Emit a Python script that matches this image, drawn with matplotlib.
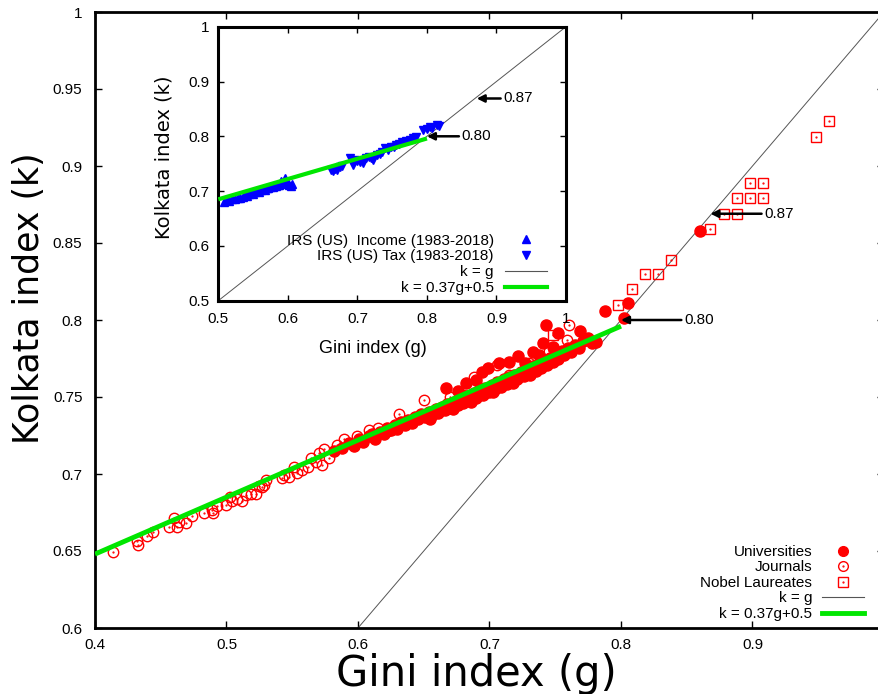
import matplotlib
matplotlib.use("Agg")
import matplotlib.pyplot as plt
from matplotlib.lines import Line2D
from matplotlib import font_manager

plt.rcParams['font.family'] = ['Liberation Sans', 'DejaVu Sans']

# ---------------- data ----------------
# Universities (filled circles)
univ_g = [0.582, 0.588, 0.593, 0.597, 0.601, 0.604, 0.608, 0.611, 0.613, 0.617,
          0.620, 0.622, 0.625, 0.628, 0.630, 0.633, 0.636, 0.638, 0.641, 0.643,
          0.646, 0.648, 0.651, 0.654, 0.656, 0.659, 0.661, 0.664, 0.666, 0.668,
          0.671, 0.673, 0.676, 0.678, 0.680, 0.683, 0.685, 0.688, 0.690, 0.692,
          0.695, 0.697, 0.700, 0.702, 0.704, 0.706, 0.709, 0.711, 0.713, 0.715,
          0.717, 0.719, 0.721, 0.724, 0.726, 0.728, 0.730, 0.733, 0.735, 0.737,
          0.739, 0.741, 0.744, 0.746, 0.748, 0.750, 0.752, 0.755, 0.757, 0.760,
          0.762, 0.765, 0.768, 0.771, 0.775, 0.778,
          0.694, 0.699, 0.707, 0.715, 0.722, 0.733, 0.741, 0.748, 0.752, 0.743,
          0.769, 0.781, 0.788, 0.805, 0.802, 0.860,
          0.655, 0.672, 0.686, 0.703, 0.718, 0.731,
          0.667, 0.682, 0.676, 0.690, 0.727, 0.738]
univ_k = [0.7150, 0.7168, 0.7200, 0.7185, 0.7225, 0.7208, 0.7248, 0.7262, 0.7230, 0.7275,
          0.7258, 0.7300, 0.7285, 0.7320, 0.7295, 0.7335, 0.7318, 0.7350, 0.7330, 0.7372,
          0.7355, 0.7390, 0.7368, 0.7405, 0.7382, 0.7420, 0.7398, 0.7438, 0.7415, 0.7455,
          0.7430, 0.7470, 0.7448, 0.7490, 0.7462, 0.7505, 0.7480, 0.7525, 0.7495, 0.7545,
          0.7515, 0.7560, 0.7535, 0.7580, 0.7550, 0.7600, 0.7565, 0.7615, 0.7585, 0.7630,
          0.7600, 0.7645, 0.7618, 0.7665, 0.7635, 0.7680, 0.7650, 0.7700, 0.7668, 0.7715,
          0.7690, 0.7735, 0.7708, 0.7755, 0.7728, 0.7775, 0.7750, 0.7800, 0.7770, 0.7815,
          0.7790, 0.7840, 0.7815, 0.7865, 0.7880, 0.7850,
          0.7664, 0.7686, 0.7718, 0.7728, 0.7765, 0.7793, 0.7848, 0.7826, 0.7913, 0.7967,
          0.7928, 0.7858, 0.8060, 0.8110, 0.8010, 0.8580,
          0.7360, 0.7420, 0.7470, 0.7530, 0.7590, 0.7640,
          0.7560, 0.7590, 0.7540, 0.7610, 0.7720, 0.7770]

# Journals (open circles)
jour_g = [0.4139, 0.4322, 0.4330, 0.4393, 0.4444, 0.4563, 0.4601, 0.4626, 0.4639, 0.4694,
          0.4735, 0.4829, 0.4892, 0.4897, 0.4930, 0.4999, 0.5027, 0.5044, 0.5082, 0.5116,
          0.5146, 0.5184, 0.5222, 0.5247, 0.5272, 0.5298, 0.5285, 0.5424, 0.5437, 0.5475,
          0.5513, 0.5538, 0.5576, 0.5622, 0.5640, 0.5678, 0.5703, 0.5728, 0.5741, 0.5779,
          0.5843, 0.5894,
          0.5995, 0.6084, 0.6150, 0.6230, 0.6312, 0.6400, 0.6464, 0.6502, 0.6600, 0.6700,
          0.6800, 0.6882, 0.6950, 0.7059, 0.7150, 0.7300, 0.7450, 0.7592, 0.7605]
jour_k = [0.6493, 0.6565, 0.6540, 0.6597, 0.6623, 0.6657, 0.6712, 0.6657, 0.6690, 0.6684,
          0.6727, 0.6744, 0.6766, 0.6744, 0.6792, 0.6798, 0.6852, 0.6826, 0.6835, 0.6826,
          0.6863, 0.6870, 0.6870, 0.6922, 0.6917, 0.6961, 0.6928, 0.6972, 0.6994, 0.6982,
          0.7047, 0.7004, 0.7025, 0.7043, 0.7101, 0.7079, 0.7134, 0.7058, 0.7160, 0.7101,
          0.7188, 0.7225,
          0.7246, 0.7285, 0.7300, 0.7280, 0.7389, 0.7340, 0.7361, 0.7480, 0.7420, 0.7500,
          0.7510, 0.7632, 0.7560, 0.7708, 0.7640, 0.7720, 0.7800, 0.7870, 0.7968]

# Nobel Laureates (open squares)
nobel_g = [0.958, 0.948, 0.898, 0.908, 0.888, 0.898, 0.908, 0.878, 0.888, 0.868,
           0.838, 0.818, 0.828, 0.808, 0.798, 0.748, 0.729]
nobel_k = [0.929, 0.919, 0.889, 0.889, 0.879, 0.879, 0.879, 0.869, 0.869, 0.859,
           0.839, 0.830, 0.830, 0.820, 0.810, 0.790, 0.769]

# Inset: IRS (US) income and tax
inc_g = [0.508, 0.512, 0.516, 0.520, 0.524, 0.528, 0.531, 0.535, 0.538, 0.541,
         0.544, 0.547, 0.550, 0.553, 0.556, 0.558, 0.561, 0.564, 0.567, 0.570,
         0.572, 0.575, 0.578, 0.580, 0.583, 0.586, 0.588, 0.591, 0.594, 0.596,
         0.598, 0.600, 0.602, 0.604, 0.606, 0.590]
inc_k = [0.681, 0.683, 0.682, 0.686, 0.685, 0.688, 0.687, 0.690, 0.692, 0.691,
         0.694, 0.696, 0.695, 0.698, 0.700, 0.699, 0.702, 0.703, 0.702, 0.705,
         0.706, 0.708, 0.707, 0.710, 0.709, 0.712, 0.711, 0.714, 0.713, 0.723,
         0.716, 0.715, 0.712, 0.710, 0.713, 0.719]
tax_g = [0.662, 0.665, 0.668, 0.671, 0.675, 0.678, 0.690, 0.694, 0.697, 0.700,
         0.704, 0.708, 0.712, 0.716, 0.720, 0.723, 0.728, 0.732, 0.736, 0.740,
         0.744, 0.748, 0.752, 0.756, 0.760, 0.764, 0.770, 0.776, 0.780, 0.785,
         0.795, 0.800, 0.804, 0.808, 0.814, 0.818]
tax_k = [0.739, 0.736, 0.741, 0.738, 0.744, 0.745, 0.760, 0.748, 0.757, 0.755,
         0.754, 0.751, 0.761, 0.763, 0.760, 0.757, 0.766, 0.768, 0.772, 0.778,
         0.775, 0.780, 0.781, 0.784, 0.786, 0.790, 0.791, 0.793, 0.796, 0.799,
         0.811, 0.814, 0.817, 0.815, 0.821, 0.819]

# reference lines
fit_slope, fit_intercept = 0.37, 0.5
main_fit_g = [0.4, 0.8]
inset_fit_g = [0.5, 0.8]
diag_main = [0.4, 1.0]
diag_inset = [0.5, 1.0]

# arrows: (label, tip_g, tip_k, tail_g)
main_arrows = [("0.87", 0.868, 0.869, 0.909), ("0.80", 0.800, 0.800, 0.848)]
inset_arrows = [("0.87", 0.8716, 0.869, 0.910), ("0.80", 0.800, 0.800, 0.850)]

# ticks (the tick at g = 1 lies beyond the cropped right edge)
main_xticks = [0.4, 0.5, 0.6, 0.7, 0.8, 0.9, 1.0]
main_xticklabels = ['0.4', '0.5', '0.6', '0.7', '0.8', '0.9', '']
main_yticks = [0.6, 0.65, 0.7, 0.75, 0.8, 0.85, 0.9, 0.95, 1.0]
main_yticklabels = ['0.6', '0.65', '0.7', '0.75', '0.8', '0.85', '0.9', '0.95', '1']
inset_ticks = [0.5, 0.6, 0.7, 0.8, 0.9, 1.0]
inset_ticklabels = ['0.5', '0.6', '0.7', '0.8', '0.9', '1']

RED = '#ff0000'
BLUE = '#0000ff'
GREEN = '#00e600'
DIAG = '#555555'

W, H = 879, 694
fig = plt.figure(figsize=(W / 100, H / 100), dpi=100)

# ---------------- main axes ----------------
ax = fig.add_axes([95 / W, (H - 628) / H, 789 / W, 616 / H])
ax.set_xlim(0.4, 1.0)
ax.set_ylim(0.6, 1.0)

ax.plot(diag_main, diag_main, color=DIAG, lw=0.7, zorder=2)
ax.plot(main_fit_g, [fit_slope * g + fit_intercept for g in main_fit_g],
        color=GREEN, lw=3.5, solid_capstyle='butt', zorder=5)

ms = 7.5
ax.plot(univ_g, univ_k, 'o', color=RED, ms=8, mec=RED, zorder=3)
ax.plot(jour_g, jour_k, 'o', mfc='none', mec=RED, ms=ms, mew=1.0, zorder=4)
ax.plot(jour_g, jour_k, '.', color=RED, ms=1.2, zorder=4)
ax.plot(nobel_g, nobel_k, 's', mfc='none', mec=RED, ms=ms, mew=1.0, zorder=4)
ax.plot(nobel_g, nobel_k, '.', color=RED, ms=1.2, zorder=4)

for lab, tg, tk, sg in main_arrows:
    ax.annotate(lab, xy=(tg, tk), xytext=(sg, tk), ha='left', va='center', fontsize=11,
                arrowprops=dict(arrowstyle='-|>', color='black', lw=1.8,
                                shrinkA=0, shrinkB=0, mutation_scale=11), zorder=6)

ax.set_xticks(main_xticks)
ax.set_xticklabels(main_xticklabels)
ax.set_yticks(main_yticks)
ax.set_yticklabels(main_yticklabels)
ax.tick_params(direction='in', top=True, right=True, length=5, width=1, labelsize=11)
ax.tick_params(axis='x', pad=7)
ax.tick_params(axis='y', pad=9)
for s in ax.spines.values():
    s.set_linewidth(2.0)

h_univ = Line2D([], [], ls='none', marker='o', color=RED, ms=7)
h_jo = Line2D([], [], ls='none', marker='o', mfc='none', mec=RED, ms=7, mew=1.0)
h_jd = Line2D([], [], ls='none', marker='.', color=RED, ms=1.2)
h_no = Line2D([], [], ls='none', marker='s', mfc='none', mec=RED, ms=7, mew=1.0)
h_kg = Line2D([], [], color=DIAG, lw=0.8)
h_fit = Line2D([], [], color=GREEN, lw=3.5)
ax.legend([h_univ, (h_jo, h_jd), (h_no, h_jd), h_kg, h_fit],
          ['Universities', 'Journals', 'Nobel Laureates', 'k = g', 'k = 0.37g+0.5'],
          loc='lower right', bbox_to_anchor=(864 / W, (H - 621) / H),
          bbox_transform=fig.transFigure, frameon=False, markerfirst=False,
          fontsize=11, handlelength=2.75, handletextpad=0.65, labelspacing=0.1,
          borderpad=0, borderaxespad=0, numpoints=1)

fig.text(29 / W, (H - 298) / H, 'Kolkata index (k)', rotation=90, ha='center', va='center',
         fontsize=25, family='DejaVu Sans')
fig.text(476.5 / W, (H - 686) / H, 'Gini index (g)', ha='center', va='baseline',
         fontsize=30, family='DejaVu Sans')

# ---------------- inset ----------------
ins = fig.add_axes([218.3 / W, (H - 300.7) / H, 347.7 / W, 274 / H])
ins.set_facecolor('white')
ins.set_xlim(0.5, 1.0)
ins.set_ylim(0.5, 1.0)
ins.plot(diag_inset, diag_inset, color=DIAG, lw=0.7, zorder=2)
ins.plot(inc_g, inc_k, '^', color=BLUE, ms=6, zorder=3)
ins.plot(tax_g, tax_k, 'v', color=BLUE, ms=6, zorder=3)
ins.plot(inset_fit_g, [fit_slope * g + fit_intercept for g in inset_fit_g],
         color=GREEN, lw=3.0, solid_capstyle='butt', zorder=4)
for lab, tg, tk, sg in inset_arrows:
    ins.annotate(lab, xy=(tg, tk), xytext=(sg, tk), ha='left', va='center', fontsize=11,
                 arrowprops=dict(arrowstyle='-|>', color='black', lw=1.8,
                                 shrinkA=0, shrinkB=0, mutation_scale=11), zorder=6)
ins.set_xticks(inset_ticks)
ins.set_xticklabels(inset_ticklabels)
ins.set_yticks(inset_ticks)
ins.set_yticklabels(inset_ticklabels)
ins.tick_params(direction='in', top=True, right=True, length=4, width=1, labelsize=11)
ins.tick_params(axis='x', pad=8)
ins.tick_params(axis='y', pad=6.5)
for s in ins.spines.values():
    s.set_linewidth(2.2)

hi_inc = Line2D([], [], ls='none', marker='^', color=BLUE, ms=6)
hi_tax = Line2D([], [], ls='none', marker='v', color=BLUE, ms=6)
hi_kg = Line2D([], [], color=DIAG, lw=0.8)
hi_fit = Line2D([], [], color=GREEN, lw=3.0)
ins.legend([hi_inc, hi_tax, hi_kg, hi_fit],
           ['IRS (US)  Income (1983-2018)', 'IRS (US) Tax (1983-2018)', 'k = g', 'k = 0.37g+0.5'],
           loc='lower right', bbox_to_anchor=(546.7 / W, (H - 295) / H),
           bbox_transform=fig.transFigure, frameon=False, markerfirst=False,
           fontsize=11, handlelength=2.75, handletextpad=0.7, labelspacing=0.12,
           borderpad=0, borderaxespad=0, numpoints=1)

names = {f.name for f in font_manager.fontManager.ttflist}
if 'Liberation Sans Narrow' in names:
    xl_fam, xl_size = 'Liberation Sans Narrow', 15
else:
    xl_fam, xl_size = 'Liberation Sans', 13
fig.text(372.5 / W, (H - 352.7) / H, 'Gini index (g)', ha='center', va='baseline',
         fontsize=xl_size, family=xl_fam)
fig.text(164 / W, (H - 157.5) / H, 'Kolkata index (k)', rotation=90, ha='center', va='center',
         fontsize=14, family='DejaVu Sans')

fig.savefig('out.png', dpi=100)
